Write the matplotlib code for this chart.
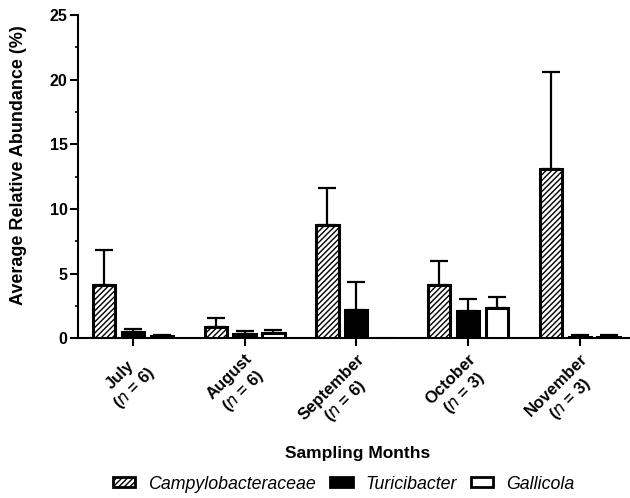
import numpy as np
import matplotlib
matplotlib.use('Agg')
import matplotlib.pyplot as plt
import matplotlib.patches as mpatches
from matplotlib.ticker import MultipleLocator

plt.rcParams['font.family'] = ['Liberation Sans', 'DejaVu Sans']
plt.rcParams['hatch.linewidth'] = 1.0

months = ['July', 'August', 'September', 'October', 'November']
n_samples = [6, 6, 6, 3, 3]
taxa = ['Campylobacteraceae', 'Turicibacter', 'Gallicola']

# mean relative abundance (%) and upper error (SD)
campy_mean = [4.1, 0.85, 8.75, 4.1, 13.1]
campy_err = [2.75, 0.72, 2.85, 1.9, 7.5]
turici_mean = [0.5, 0.33, 2.15, 2.1, 0.1]
turici_err = [0.22, 0.24, 2.2, 0.9, 0.15]
galli_mean = [0.15, 0.38, 0.0, 2.3, 0.1]
galli_err = [0.1, 0.26, 0.0, 0.9, 0.15]

means = [campy_mean, turici_mean, galli_mean]
errs = [campy_err, turici_err, galli_err]
faces = ['white', 'black', 'white']
hatches = ['//////', None, None]

fig = plt.figure(figsize=(6.3, 4.98), dpi=100)
ax = fig.add_axes([0.124, 0.321, 0.876, 0.649])

x = np.arange(len(months))
offs = [-0.258, 0.0, 0.258]
width = 0.2

for k in range(3):
    pos = x + offs[k]
    m = np.array(means[k])
    e = np.array(errs[k])
    ax.bar(pos, m, width=width, color=faces[k], edgecolor='black',
           linewidth=2.2, hatch=hatches[k], zorder=3)
    keep = m > 0
    ax.errorbar(pos[keep], m[keep], yerr=[np.zeros(keep.sum()), e[keep]],
                fmt='none', ecolor='black', elinewidth=1.6, capsize=6.5,
                capthick=1.6, zorder=2)

ax.set_ylim(0, 25)
ax.set_xlim(-0.49, 4.45)
ax.yaxis.set_major_locator(MultipleLocator(5))
ax.yaxis.set_minor_locator(MultipleLocator(2.5))
ax.set_xticks(x)
labels = [f'{mo}\n($\\mathit{{n}}$ = {n})' for mo, n in zip(months, n_samples)]
ax.set_xticklabels(labels, rotation=45, ha='right', rotation_mode='anchor',
                   multialignment='center', fontsize=12, fontweight='bold')
for t in ax.get_yticklabels():
    t.set_fontweight('bold')
    t.set_fontsize(11.5)

ax.spines['top'].set_visible(False)
ax.spines['right'].set_visible(False)
ax.spines['left'].set_linewidth(1.5)
ax.spines['bottom'].set_linewidth(1.5)
ax.tick_params(axis='both', which='major', width=1.5, length=6)
ax.tick_params(axis='y', which='major', pad=1.5)
ax.tick_params(axis='y', which='minor', width=1.2, length=2.5)

ax.set_ylabel('Average Relative Abundance (%)', fontsize=13, fontweight='bold')
ax.yaxis.set_label_coords(-0.093, 0.536)
ax.set_xlabel('Sampling Months', fontsize=12.5, fontweight='bold')
ax.xaxis.set_label_coords(0.506, -0.333)

handles = [mpatches.Patch(facecolor=faces[k], edgecolor='black', linewidth=2,
                          hatch=hatches[k], label=taxa[k]) for k in range(3)]
fig.legend(handles=handles, loc='center', bbox_to_anchor=(0.546, 0.028), ncol=3,
           frameon=False, prop={'style': 'italic', 'size': 12.8},
           handlelength=1.25, handleheight=0.5, handletextpad=0.73,
           columnspacing=0.8)

fig.savefig('out.png', dpi=100)
